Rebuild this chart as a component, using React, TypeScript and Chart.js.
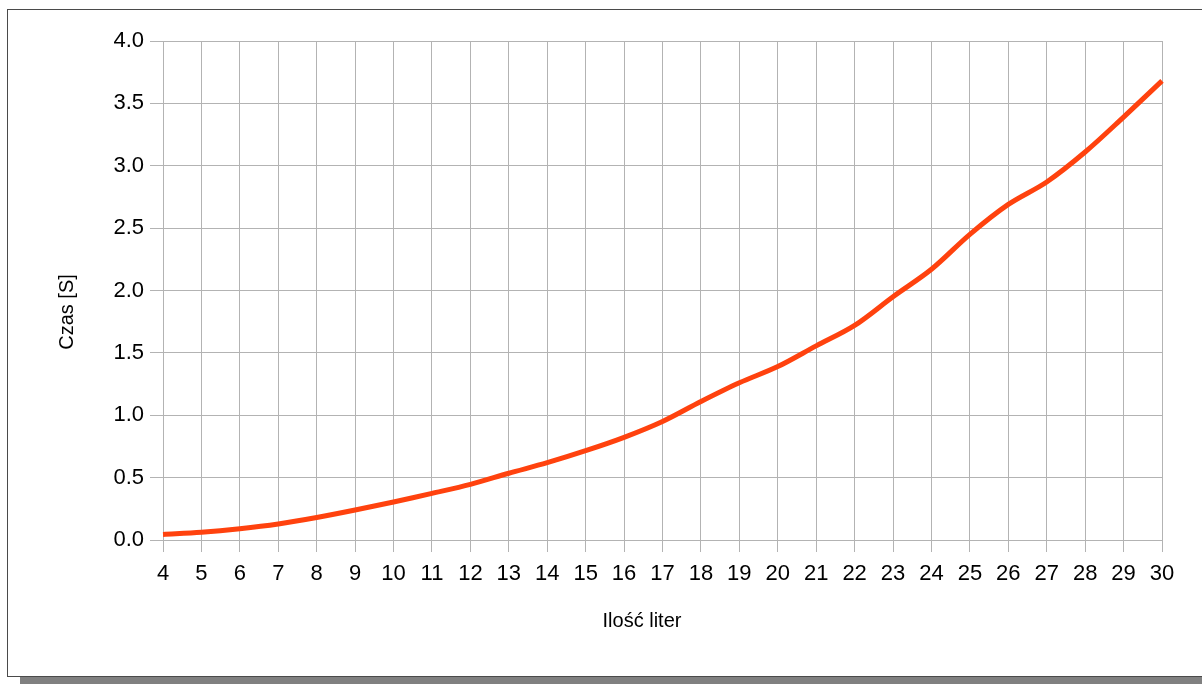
import React, { useEffect, useRef } from "react";
import { Chart, registerables } from "chart.js";

Chart.register(...registerables);

const letterCounts = [4, 5, 6, 7, 8, 9, 10, 11, 12, 13, 14, 15, 16, 17, 18, 19, 20, 21, 22, 23, 24, 25, 26, 27, 28, 29, 30];
const timeSeconds = [
  0.045, 0.062, 0.09, 0.128, 0.18, 0.24, 0.305, 0.374, 0.446, 0.535, 0.62, 0.716, 0.823, 0.95,
  1.11, 1.26, 1.39, 1.556, 1.72, 1.95, 2.17, 2.45, 2.69, 2.87, 3.11, 3.39, 3.68,
];
const xTitle = "Ilość liter";
const yTitle = "Czas [S]";

const FONT = '"Liberation Sans", Arial, sans-serif';
const GRID = "#b3b3b3";

const titlesPlugin = {
  id: "axisTitles",
  afterDraw(chart: any) {
    const ctx = chart.ctx;
    ctx.save();
    ctx.fillStyle = "#000";
    ctx.font = `20px ${FONT}`;
    ctx.textAlign = "center";
    ctx.textBaseline = "alphabetic";
    ctx.fillText(xTitle, 642, 627);
    ctx.translate(73, 312);
    ctx.rotate(-Math.PI / 2);
    ctx.fillText(yTitle, 0, 0);
    ctx.restore();
  },
};

export default function App() {
  const canvasRef = useRef<HTMLCanvasElement | null>(null);

  useEffect(() => {
    const canvas = canvasRef.current;
    if (!canvas) return;
    const chart = new Chart(canvas, {
      type: "line",
      data: {
        labels: letterCounts.map(String),
        datasets: [
          {
            data: timeSeconds,
            borderColor: "#ff420e",
            backgroundColor: "#ff420e",
            borderWidth: 5,
            pointRadius: 0,
            tension: 0.33,
            fill: false,
            borderCapStyle: "butt",
          },
        ],
      },
      options: {
        responsive: false,
        animation: false,
        devicePixelRatio: 1,
        layout: { padding: { left: 40, right: 40, top: 41, bottom: 44 } },
        plugins: {
          legend: { display: false },
          tooltip: { enabled: false },
          title: { display: false },
        },
        scales: {
          x: {
            type: "category",
            offset: false,
            grid: { color: GRID, lineWidth: 1, tickLength: 12, drawTicks: true },
            border: { display: true, color: GRID, width: 1 },
            ticks: {
              color: "#000",
              font: { family: FONT, size: 22 },
              padding: 9,
              maxRotation: 0,
              autoSkip: false,
            },
            afterFit(scale: any) {
              scale.height = 100;
            },
          },
          y: {
            min: 0,
            max: 4,
            grid: { color: GRID, lineWidth: 1, tickLength: 13, drawTicks: true },
            border: { display: true, color: GRID, width: 1 },
            ticks: {
              stepSize: 0.5,
              color: "#000",
              font: { family: FONT, size: 22 },
              padding: 6,
              callback: (v: any) => Number(v).toFixed(1),
            },
            afterFit(scale: any) {
              scale.width = 123;
            },
          },
        },
      },
      plugins: [titlesPlugin],
    });
    return () => chart.destroy();
  }, []);

  return (
    <div
      style={{
        position: "fixed",
        left: 0,
        top: 0,
        width: 1202,
        height: 684,
        overflow: "hidden",
        background: "#fff",
      }}
    >
      <div
        style={{
          position: "absolute",
          left: 20,
          top: 677,
          width: 1200,
          height: 10,
          background: "#808080",
        }}
      />
      <div
        style={{
          position: "absolute",
          left: 7,
          top: 9,
          width: 1250,
          height: 666,
          border: "1px solid #4a4a4a",
          background: "#fff",
        }}
      />
      <canvas
        ref={canvasRef}
        width={1202}
        height={684}
        style={{ position: "absolute", left: 0, top: 0, width: 1202, height: 684, display: "block" }}
      />
    </div>
  );
}
